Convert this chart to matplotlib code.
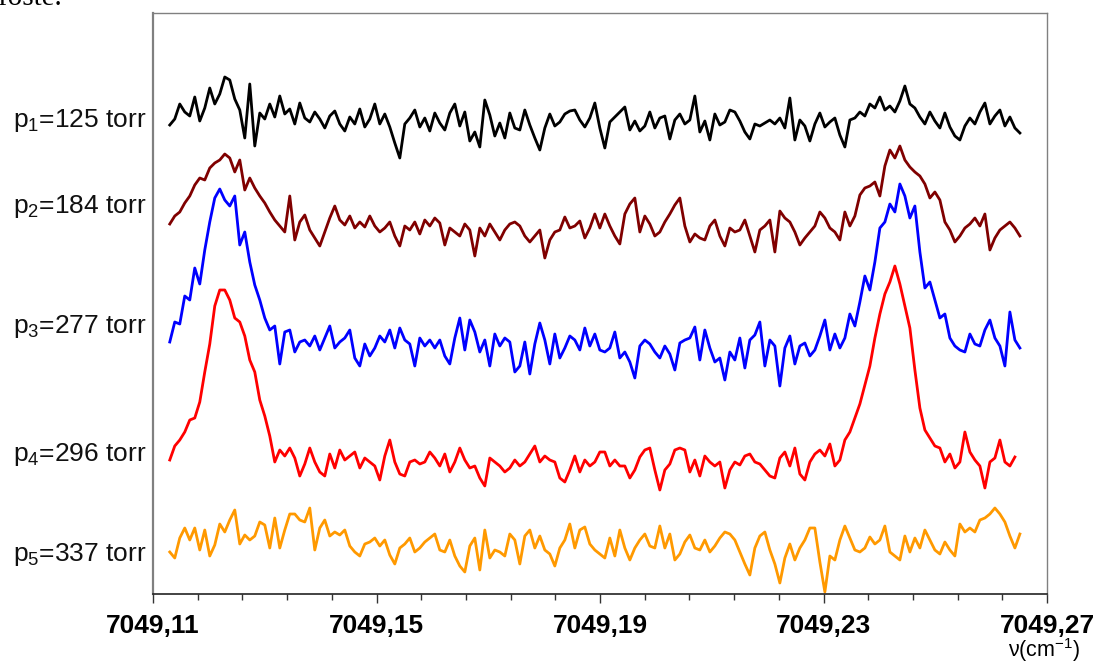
import numpy as np
import matplotlib
matplotlib.use("Agg")
import matplotlib.pyplot as plt
from matplotlib.ticker import FixedLocator, AutoMinorLocator, FixedFormatter
from matplotlib.transforms import blended_transform_factory

plt.rcParams['font.family'] = ['Liberation Sans', 'DejaVu Sans']
plt.rcParams['mathtext.fontset'] = 'custom'
plt.rcParams['mathtext.rm'] = 'Liberation Sans'
plt.rcParams['mathtext.it'] = 'Liberation Sans'
plt.rcParams['mathtext.bf'] = 'Liberation Sans:bold'
plt.rcParams['mathtext.default'] = 'regular'

# Wavenumber sampling of the recorded spectra (cm^-1)
NU_START = 7049.1130
NU_STEP = 0.000895

# Stacked signal levels (arbitrary units, drawn on an inverted scale)
p1_125 = [
    125, 119, 104, 112, 116, 97, 121, 108, 88, 104,
    94, 77, 80, 99, 110, 138, 84, 146, 113, 119,
    104, 117, 96, 114, 109, 124, 103, 118, 122, 112,
    119, 128, 116, 111, 124, 131, 117, 124, 109, 127,
    119, 104, 124, 114, 127, 143, 158, 124, 118, 110,
    127, 118, 131, 113, 123, 130, 113, 104, 126, 112,
    141, 132, 147, 100, 115, 136, 123, 138, 113, 128,
    130, 110, 125, 138, 150, 128, 114, 126, 122, 114,
    111, 110, 120, 127, 118, 103, 128, 148, 122, 117,
    112, 107, 130, 121, 131, 126, 112, 128, 118, 116,
    139, 120, 114, 124, 120, 96, 132, 121, 140, 114,
    125, 122, 110, 112, 121, 132, 139, 124, 126, 123,
    120, 124, 118, 128, 98, 140, 120, 126, 141, 124,
    113, 127, 122, 118, 135, 147, 120, 118, 112, 116,
    104, 108, 97, 110, 106, 112, 101, 86, 104, 108,
    117, 124, 112, 121, 128, 113, 127, 136, 140, 126,
    118, 124, 112, 103, 124, 116, 110, 126, 117, 128,
    133,
]

p2_184 = [
    224, 216, 212, 203, 196, 185, 178, 180, 168, 163,
    160, 154, 158, 172, 160, 190, 178, 188, 196, 203,
    212, 220, 226, 232, 196, 240, 222, 215, 230, 238,
    246, 232, 218, 206, 220, 225, 216, 228, 222, 227,
    216, 226, 232, 228, 222, 236, 246, 226, 230, 222,
    234, 220, 226, 218, 223, 245, 228, 232, 236, 224,
    230, 256, 228, 236, 224, 232, 240, 230, 224, 222,
    226, 236, 242, 236, 230, 258, 240, 232, 230, 217,
    228, 226, 221, 238, 228, 214, 228, 214, 226, 236,
    244, 214, 204, 198, 232, 216, 224, 236, 232, 222,
    214, 205, 198, 226, 242, 234, 238, 240, 226, 220,
    236, 246, 228, 232, 230, 220, 236, 252, 230, 226,
    220, 252, 211, 218, 222, 232, 245, 238, 232, 226,
    212, 218, 228, 232, 240, 212, 226, 216, 195, 188,
    186, 182, 196, 166, 150, 158, 146, 160, 167, 172,
    176, 184, 198, 192, 200, 222, 230, 242, 236, 228,
    224, 218, 226, 214, 250, 238, 230, 226, 222, 228,
    236,
]

p3_277 = [
    342, 322, 324, 296, 300, 268, 284, 250, 222, 198,
    189, 200, 206, 196, 245, 232, 262, 285, 300, 318,
    330, 326, 364, 332, 330, 352, 342, 340, 346, 336,
    350, 338, 326, 348, 342, 338, 330, 358, 366, 344,
    356, 348, 336, 342, 330, 348, 328, 340, 344, 366,
    338, 346, 340, 348, 340, 356, 364, 338, 318, 350,
    320, 332, 352, 340, 366, 334, 346, 338, 342, 372,
    366, 342, 374, 344, 323, 340, 364, 334, 358, 348,
    336, 340, 350, 328, 346, 334, 350, 352, 348, 332,
    358, 352, 362, 378, 346, 340, 344, 352, 358, 346,
    354, 370, 343, 340, 338, 327, 360, 330, 348, 362,
    358, 380, 352, 360, 338, 368, 340, 335, 322, 366,
    340, 346, 386, 348, 336, 364, 346, 343, 356, 350,
    336, 320, 350, 334, 348, 338, 314, 326, 302, 276,
    290, 262, 228, 222, 204, 212, 184, 196, 218, 206,
    252, 288, 282, 300, 318, 314, 338, 346, 350, 352,
    334, 344, 346, 330, 320, 338, 346, 366, 312, 340,
    348,
]

p4_296 = [
    460, 446, 440, 432, 420, 418, 402, 372, 344, 306,
    290, 290, 300, 318, 322, 336, 360, 372, 400, 416,
    436, 462, 450, 456, 448, 458, 476, 464, 448, 462,
    472, 476, 454, 468, 450, 460, 456, 452, 468, 458,
    462, 466, 480, 456, 440, 462, 474, 476, 462, 460,
    464, 462, 452, 458, 466, 454, 472, 462, 448, 460,
    468, 466, 478, 486, 458, 462, 466, 472, 468, 460,
    466, 462, 454, 446, 462, 456, 460, 462, 478, 482,
    470, 456, 472, 460, 466, 462, 452, 452, 466, 460,
    466, 466, 478, 470, 457, 450, 448, 470, 490, 470,
    464, 450, 448, 450, 472, 460, 476, 456, 462, 466,
    462, 488, 470, 462, 465, 456, 454, 462, 464, 470,
    476, 478, 458, 452, 466, 448, 474, 480, 462, 454,
    450, 456, 444, 466, 460, 440, 432, 418, 404, 385,
    366, 338, 314, 294, 282, 266, 284, 306, 328, 370,
    408, 430, 438, 446, 448, 462, 454, 468, 462, 432,
    452, 460, 466, 488, 462, 458, 440, 462, 466, 457,
]

p5_337 = [
    552, 558, 538, 528, 540, 528, 550, 530, 556, 545,
    524, 532, 520, 510, 544, 535, 540, 536, 522, 525,
    548, 518, 548, 530, 514, 514, 520, 522, 508, 550,
    528, 520, 536, 532, 535, 530, 546, 552, 556, 544,
    542, 538, 546, 540, 555, 564, 548, 544, 538, 552,
    548, 542, 538, 534, 550, 552, 540, 556, 566, 572,
    546, 538, 570, 530, 558, 550, 552, 556, 534, 540,
    564, 536, 530, 548, 536, 550, 554, 566, 548, 540,
    524, 548, 530, 527, 544, 550, 554, 558, 538, 556,
    530, 548, 560, 548, 540, 534, 546, 548, 526, 548,
    534, 560, 554, 542, 535, 548, 550, 540, 552, 546,
    538, 532, 534, 540, 552, 564, 575, 548, 536, 532,
    550, 564, 583, 558, 544, 560, 548, 540, 528, 528,
    562, 592, 556, 560, 540, 526, 538, 550, 552, 548,
    537, 544, 540, 526, 552, 556, 560, 536, 552, 538,
    548, 530, 540, 550, 554, 542, 550, 556, 524, 532,
    528, 532, 520, 518, 514, 508, 514, 522, 536, 548,
    534,
]

series = [p1_125, p2_184, p3_277, p4_296, p5_337]
colors = ['#000000', '#800000', '#0000ff', '#ff0000', '#ff9900']
labels = [r'p$_1$=125 torr', r'p$_2$=184 torr', r'p$_3$=277 torr',
          r'p$_4$=296 torr', r'p$_5$=337 torr']
label_levels = [121, 206, 327, 454, 555]

tick_values = [7049.11, 7049.15, 7049.19, 7049.23, 7049.27]
tick_labels = ['7049,11', '7049,15', '7049,19', '7049,23', '7049,27']

fig = plt.figure(figsize=(11.01, 6.66), dpi=100)
ax = fig.add_axes([153 / 1101, 72 / 666, 894 / 1101, 581 / 666])

for vals, c in zip(series, colors):
    nu = NU_START + NU_STEP * np.arange(len(vals))
    ax.plot(nu, vals, color=c, lw=2.0, solid_joinstyle='round')

ax.set_xlim(tick_values[0], tick_values[-1])
ax.set_ylim(594, 13)

ax.xaxis.set_major_locator(FixedLocator(tick_values))
ax.xaxis.set_major_formatter(FixedFormatter(tick_labels))
ax.xaxis.set_minor_locator(AutoMinorLocator(5))
ax.tick_params(axis='x', which='major', direction='out', length=6.5, width=1,
               color='#333333', pad=8, labelsize=19)
ax.tick_params(axis='x', which='minor', direction='out', length=4.5, width=1,
               color='#333333')
for lab in ax.get_xticklabels():
    lab.set_fontweight('bold')
ax.set_yticks([])

ax.spines['left'].set_color('#808080')
ax.spines['left'].set_linewidth(1.6)
ax.spines['top'].set_color('#808080')
ax.spines['right'].set_color('#808080')
ax.spines['top'].set_linewidth(1.0)
ax.spines['right'].set_linewidth(1.0)
ax.spines['bottom'].set_color('#222222')
ax.spines['bottom'].set_linewidth(1.2)

trans = blended_transform_factory(ax.transAxes, ax.transData)
for lab, lev in zip(labels, label_levels):
    ax.text(-0.007, lev, lab, transform=trans, ha='right', va='center',
            fontsize=19, color='#111111')

fig.text(1080 / 1101, 9 / 666, r'ν(cm$^{-1}$)', ha='right',
         va='baseline', fontsize=15.5)

fig.text(-2 / 1101, 1 - 5 / 666, 'roste.', family='Liberation Serif',
         fontsize=21, va='baseline', ha='left')

fig.savefig('out.png', dpi=100)
